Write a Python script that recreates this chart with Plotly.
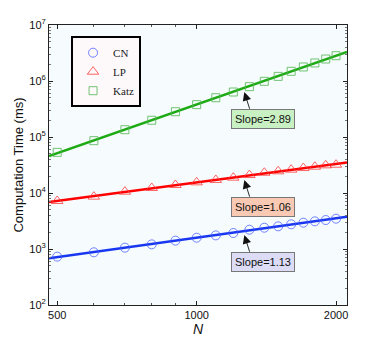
import numpy as np
import plotly.graph_objs as go

# network size
N = [500, 600, 700, 800, 900, 1000, 1100, 1200, 1300, 1400, 1500, 1600, 1700, 1800, 1900, 2000]

# computation time (ms)
cn = [730, 873, 1056, 1210, 1410, 1590, 1750, 1930, 2210, 2400, 2540, 2760, 2950, 3120, 3290, 3480]
lp = [7200, 8600, 10560, 12300, 13900, 15500, 17100, 18800, 20900, 23000, 24400, 26100, 27900, 29500, 31200, 32000]
katz = [53200, 86000, 135000, 199000, 283000, 378000, 503000, 636000, 792000, 987000,
        1210000, 1490000, 1780000, 2100000, 2470000, 2830000]

slope_labels = ['Slope=1.13', 'Slope=1.06', 'Slope=2.89']
x_ticks = [500, 1000, 2000]
y_exps = [2, 3, 4, 5, 6, 7]

x_lo, x_hi = 480, 2112
x_line = np.logspace(np.log10(x_lo), np.log10(x_hi), 50)

series = [
    ('CN', cn, 'circle-open', 'rgba(70,90,255,0.75)', 'rgb(25,55,240)', '#dcdcf6', 9),
    ('LP', lp, 'triangle-up-open', 'rgba(255,60,60,0.8)', 'rgb(255,0,0)', '#f9c9b3', 10),
    ('Katz', katz, 'square-open', 'rgba(80,180,80,0.8)', 'rgb(30,170,20)', '#c9f0c2', 8),
]

fig = go.Figure()
annots = []
for (name, vals, sym, mcol, lcol, boxcol, msize), lab in zip(series, slope_labels):
    k, b = np.polyfit(np.log10(N), np.log10(vals), 1)
    fig.add_trace(go.Scatter(x=x_line, y=10 ** (b + k * np.log10(x_line)), mode='lines',
                             line=dict(color=lcol, width=2.5), showlegend=False, hoverinfo='skip'))
    fig.add_trace(go.Scatter(x=N, y=vals, mode='markers', name=name,
                             marker=dict(symbol=sym, size=msize, color=mcol,
                                         line=dict(width=1, color=mcol))))
    # arrow + slope box
    xa = 1260
    ya = 10 ** (b + k * np.log10(xa))
    annots.append(dict(x=np.log10(xa), y=np.log10(ya), xref='x', yref='y', text='',
                       showarrow=True, arrowhead=2, arrowsize=1.9, arrowwidth=0.9,
                       arrowcolor='#111', ax=7, ay=22, standoff=4))
    annots.append(dict(x=np.log10(xa), y=np.log10(ya), xref='x', yref='y', text=lab,
                       showarrow=False, xshift=20, yshift=-31, bgcolor=boxcol,
                       bordercolor='#777', borderwidth=1, borderpad=3,
                       font=dict(family='Liberation Sans, Arial', size=11, color='#111')))

# page body has an 8px margin, so shift the figure up/left accordingly
fig.update_layout(
    width=382, height=344,
    margin=dict(l=41, r=43, t=17, b=47),
    paper_bgcolor='white',
    plot_bgcolor='#f6fcfd',
    font=dict(family='Liberation Sans, Arial', size=11, color='#111'),
    annotations=annots,
    legend=dict(x=0.074, y=0.96, xanchor='left', yanchor='top',
                bgcolor='#fdf9fb', bordercolor='black', borderwidth=2,
                font=dict(family='Liberation Serif, serif', size=11, color='#222'),
                itemwidth=30, tracegroupgap=0),
    showlegend=True,
)
fig.update_xaxes(type='log', range=[np.log10(x_lo), np.log10(x_hi)], automargin=False,
                 tickvals=x_ticks, ticktext=[str(t) for t in x_ticks],
                 ticks='inside', ticklen=4, tickcolor='#222',
                 showline=True, linecolor='#222', linewidth=1, mirror='allticks',
                 showgrid=False, zeroline=False,
                 minor=dict(tickvals=[600, 700, 800, 900], ticks='inside', ticklen=2, tickcolor='#555'),
                 title=dict(text='<i>N</i>', font=dict(size=14), standoff=2))
fig.update_yaxes(type='log', range=[2, 7], automargin=False,
                 tickvals=[10 ** e for e in y_exps],
                 ticktext=['10<sup>%d</sup>' % e for e in y_exps],
                 ticks='inside', ticklen=4, tickcolor='#222',
                 showline=True, linecolor='#222', linewidth=1, mirror='allticks',
                 showgrid=False, zeroline=False,
                 minor=dict(tickvals=[m * 10 ** e for e in range(2, 7) for m in range(2, 10)],
                            ticks='inside', ticklen=2, tickcolor='#777'),
                 title=dict(text='Computation Time (ms)', font=dict(size=13), standoff=2))

fig.write_html("out.html")
